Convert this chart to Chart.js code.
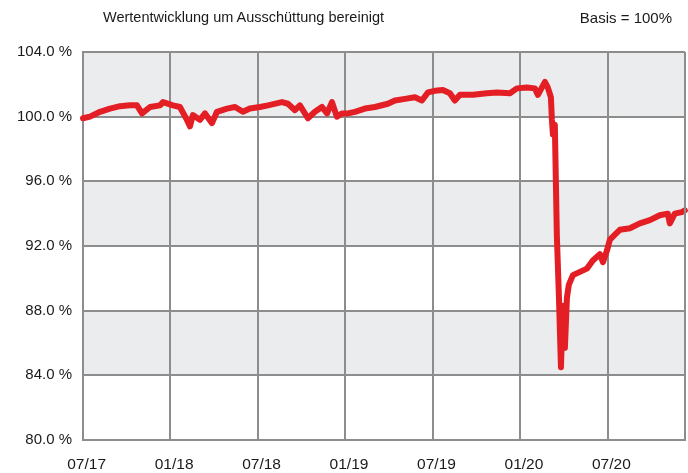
<!DOCTYPE html>
<html>
<head>
<meta charset="utf-8">
<script src="https://cdn.jsdelivr.net/npm/chart.js@4.4.1/dist/chart.umd.min.js"></script>
<style>
  body { margin: 0; background: #fff; font-family: "Liberation Sans", Arial, sans-serif; }
  #wrap { position: relative; width: 688px; height: 473px; }
  .cap { position: absolute; top: 9px; color: #1a1a1a; white-space: nowrap; }
</style>
</head>
<body>
<div id="wrap">
  <div class="cap" style="left:103px; font-size:14.5px">Wertentwicklung um Ausschüttung bereinigt</div>
  <div class="cap" style="right:16px; font-size:15px">Basis = 100%</div>
  <canvas id="chart" width="688" height="473"></canvas>
</div>
<script>
// months counted from 07/2017
const monthPos = [
  0.00, 0.48, 1.17, 1.85, 2.54, 3.22, 3.70, 4.05, 4.60, 5.28,
  5.49, 6.17, 6.65, 7.13, 7.34, 7.54, 8.02, 8.37, 8.85, 9.19,
  9.88, 10.43, 10.97, 11.45, 12.14, 12.69, 13.65, 14.06, 14.54, 14.88,
  15.43, 15.91, 16.39, 16.74, 17.08, 17.42, 17.76, 18.18, 18.66, 19.34,
  20.03, 20.92, 21.40, 22.09, 22.77, 23.25, 23.66, 24.14, 24.69, 25.17,
  25.51, 25.86, 26.75, 27.71, 28.40, 29.29, 29.77, 30.45, 31.00, 31.21,
  31.69, 31.89, 32.10, 32.17, 32.24, 32.37, 32.51, 32.65, 32.79, 32.92,
  33.06, 33.20, 33.33, 33.61, 34.09, 34.57, 34.98, 35.46, 35.67, 35.94,
  36.15, 36.49, 36.83, 37.52, 38.20, 38.89, 39.57, 40.12, 40.26, 40.60,
  41.08, 41.29
];
// indexed value, percent
const fundValue = [
  99.9, 100.0, 100.3, 100.5, 100.65, 100.7, 100.7, 100.2, 100.6, 100.7,
  100.9, 100.7, 100.6, 99.8, 99.4, 100.1, 99.8, 100.2, 99.6, 100.3,
  100.5, 100.6, 100.3, 100.5, 100.6, 100.7, 100.9, 100.8, 100.4, 100.7,
  99.9, 100.3, 100.6, 100.2, 100.9, 100.0, 100.2, 100.2, 100.3, 100.5,
  100.6, 100.8, 101.0, 101.1, 101.2, 101.0, 101.5, 101.6, 101.65, 101.45,
  101.0, 101.35, 101.35, 101.45, 101.5, 101.45, 101.75, 101.8, 101.75, 101.35,
  102.15, 101.8, 101.2, 99.8, 98.9, 99.5, 92.6, 88.9, 84.5, 88.3,
  85.7, 88.8, 89.6, 90.2, 90.4, 90.6, 91.1, 91.5, 91.0, 91.7,
  92.4, 92.7, 93.0, 93.1, 93.4, 93.6, 93.9, 94.0, 93.4, 94.0,
  94.1, 94.2
];
const xTickPos = [0, 6, 12, 18, 24, 30, 36];
const xTickLabels = ['07/17', '01/18', '07/18', '01/19', '07/19', '01/20', '07/20'];
const yMin = 80, yMax = 104, yStep = 4;
const shadedBands = [[100, 104], [92, 96], [84, 88]];

const gridGray = '#8d8d8d';
const textColor = '#1a1a1a';

// grey bands behind the plot and the closing right edge of the frame
const bandsPlugin = {
  id: 'bands',
  beforeDraw(chart) {
    const { ctx, chartArea: a, scales: { y } } = chart;
    ctx.save();
    ctx.fillStyle = '#ebeced';
    shadedBands.forEach(([lo, hi]) => {
      const top = y.getPixelForValue(hi);
      const bottom = y.getPixelForValue(lo);
      ctx.fillRect(a.left, top, a.right - a.left, bottom - top);
    });
    ctx.restore();
  },
  afterDatasetsDraw(chart) {
    const { ctx, chartArea: a } = chart;
    ctx.save();
    ctx.strokeStyle = gridGray;
    ctx.lineWidth = 2;
    ctx.beginPath();
    ctx.moveTo(a.right, a.top);
    ctx.lineTo(a.right, a.bottom);
    ctx.stroke();
    ctx.restore();
  }
};

const ctx = document.getElementById('chart').getContext('2d');
new Chart(ctx, {
  type: 'line',
  data: {
    datasets: [{
      data: monthPos.map((m, i) => ({ x: m, y: fundValue[i] })),
      borderColor: '#e41e25',
      borderWidth: 6,
      pointRadius: 0,
      tension: 0,
      borderJoinStyle: 'round',
      borderCapStyle: 'round',
      clip: false
    }]
  },
  options: {
    responsive: false,
    animation: false,
    layout: { padding: { top: 52, right: 3, left: 0, bottom: 0 } },
    plugins: { legend: { display: false }, tooltip: { enabled: false } },
    scales: {
      x: {
        type: 'linear',
        min: 0,
        max: 41.3,
        afterBuildTicks: scale => { scale.ticks = xTickPos.map(v => ({ value: v + 0.25 })); },
        afterFit: scale => { scale.height = 33; },
        grid: { display: false, drawTicks: false },
        border: { color: gridGray, width: 2 },
        ticks: {
          padding: 15,
          maxRotation: 0,
          color: textColor,
          font: { family: '"Liberation Sans Narrow", "Liberation Sans", Arial, sans-serif', size: 15.5 },
          callback: v => xTickLabels[xTickPos.indexOf(v - 0.25)]
        }
      },
      y: {
        min: yMin,
        max: yMax,
        afterFit: scale => { scale.width = 83; },
        grid: { color: gridGray, lineWidth: 2, drawTicks: false },
        border: { color: gridGray, width: 2 },
        ticks: {
          stepSize: yStep,
          padding: 11,
          color: textColor,
          font: { family: '"Liberation Sans", Arial, sans-serif', size: 15 },
          callback: v => v.toFixed(1) + ' %'
        }
      }
    }
  },
  plugins: [bandsPlugin, {
    // vertical grid lines sit on the month boundaries, labels slightly to the right
    id: 'monthLines',
    beforeDatasetsDraw(chart) {
      const { ctx, chartArea: a, scales: { x } } = chart;
      ctx.save();
      ctx.strokeStyle = gridGray;
      ctx.lineWidth = 2;
      xTickPos.forEach(v => {
        const px = Math.round(x.getPixelForValue(v));
        ctx.beginPath();
        ctx.moveTo(px, a.top);
        ctx.lineTo(px, a.bottom);
        ctx.stroke();
      });
      ctx.restore();
    }
  }]
});
</script>
</body>
</html>
